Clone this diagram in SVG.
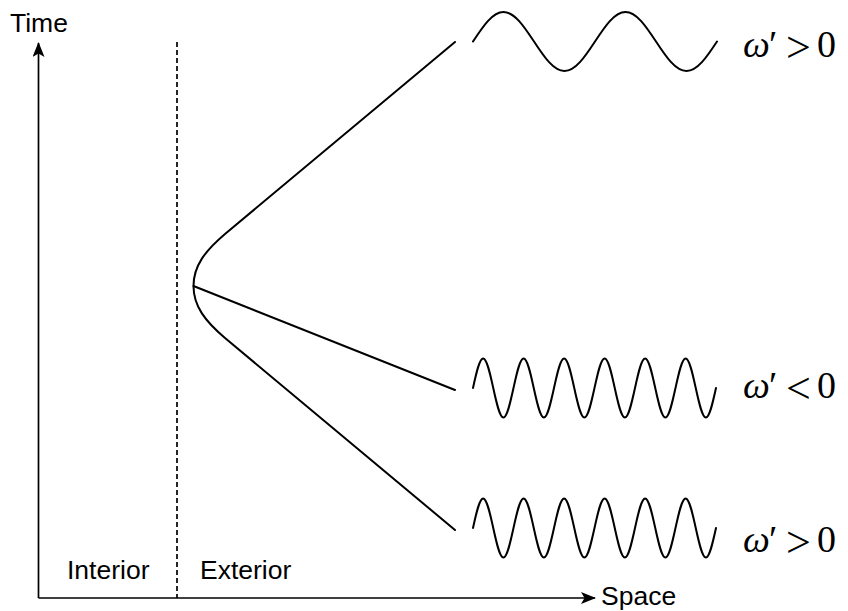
<svg xmlns="http://www.w3.org/2000/svg" width="848" height="611" viewBox="0 0 848 611">
  <defs>
    <style>
      .ln { fill: none; stroke: #000; stroke-width: 2; stroke-linecap: round; stroke-linejoin: round; }
      .ax { fill: none; stroke: #000; stroke-width: 1.7; }
      .dash { fill: none; stroke: #000; stroke-width: 1.7; stroke-dasharray: 5 3; }
      .lbl { font-family: "Liberation Sans", Arial, sans-serif; font-size: 26.5px; fill: #000; }
      .math { font-family: "Liberation Serif", "Times New Roman", serif; font-size: 38px; fill: #000; }
      .it { font-style: italic; }
      .rel { font-size: 44px; }
    </style>
    <marker id="arrow" markerUnits="userSpaceOnUse" markerWidth="16" markerHeight="14" refX="14" refY="6" orient="auto">
      <path d="M0,0 L15,6 L0,12 L3.5,6 z" fill="#000"/>
    </marker>
  </defs>

  <g id="axes">
    <line class="ax" x1="38.5" y1="598" x2="38.5" y2="43" marker-end="url(#arrow)"/>
    <line class="ax" x1="38.5" y1="598" x2="595" y2="598" marker-end="url(#arrow)"/>
    <text class="lbl" x="10" y="32">Time</text>
    <text class="lbl" x="601" y="605">Space</text>
  </g>

  <g id="boundary">
    <line class="dash" x1="177" y1="42" x2="177" y2="598"/>
    <text class="lbl" x="67" y="579">Interior</text>
    <text class="lbl" x="200" y="579">Exterior</text>
  </g>

  <g id="connectors">
    <path class="ln" d="M455,42 L225,234 C205,251 193.5,266 193.5,286 C193.5,306 205,321 225,338 L455,530"/>
    <path class="ln" d="M193.5,286 L455,390"/>
  </g>

  <g id="wave-top">
    <path class="ln" d="M473,41.5
      c9.95,-15.11 19.46,-29.5 30.5,-29.5 c11.04,0 20.55,14.39 30.5,29.5 c9.95,15.11 19.46,29.5 30.5,29.5 c11.04,0 20.55,-14.39 30.5,-29.5
      c9.95,-15.11 19.46,-29.5 30.5,-29.5 c11.04,0 20.55,14.39 30.5,29.5 c9.95,15.11 19.46,29.5 30.5,29.5 c11.04,0 20.55,-14.39 30.5,-29.5"/>
    <text class="math" x="743" y="57"><tspan class="it">ω</tspan><tspan x="769" y="57">′</tspan><tspan class="rel" x="786" y="62">&gt;</tspan><tspan x="817" y="57">0</tspan></text>
  </g>

  <g id="wave-middle">
    <path class="ln" d="M473,388
      c3.3,-15.11 6.46,-29.5 10.125,-29.5 c3.66,0 6.82,14.39 10.125,29.5 c3.3,15.11 6.46,29.5 10.125,29.5 c3.66,0 6.82,-14.39 10.125,-29.5
      c3.3,-15.11 6.46,-29.5 10.125,-29.5 c3.66,0 6.82,14.39 10.125,29.5 c3.3,15.11 6.46,29.5 10.125,29.5 c3.66,0 6.82,-14.39 10.125,-29.5
      c3.3,-15.11 6.46,-29.5 10.125,-29.5 c3.66,0 6.82,14.39 10.125,29.5 c3.3,15.11 6.46,29.5 10.125,29.5 c3.66,0 6.82,-14.39 10.125,-29.5
      c3.3,-15.11 6.46,-29.5 10.125,-29.5 c3.66,0 6.82,14.39 10.125,29.5 c3.3,15.11 6.46,29.5 10.125,29.5 c3.66,0 6.82,-14.39 10.125,-29.5
      c3.3,-15.11 6.46,-29.5 10.125,-29.5 c3.66,0 6.82,14.39 10.125,29.5 c3.3,15.11 6.46,29.5 10.125,29.5 c3.66,0 6.82,-14.39 10.125,-29.5
      c3.3,-15.11 6.46,-29.5 10.125,-29.5 c3.66,0 6.82,14.39 10.125,29.5 c3.3,15.11 6.46,29.5 10.125,29.5 c3.66,0 6.82,-14.39 10.125,-29.5"/>
    <text class="math" x="743" y="398"><tspan class="it">ω</tspan><tspan x="769" y="398">′</tspan><tspan class="rel" x="786" y="403">&lt;</tspan><tspan x="817" y="398">0</tspan></text>
  </g>

  <g id="wave-bottom">
    <path class="ln" d="M473,528
      c3.3,-15.11 6.46,-29.5 10.125,-29.5 c3.66,0 6.82,14.39 10.125,29.5 c3.3,15.11 6.46,29.5 10.125,29.5 c3.66,0 6.82,-14.39 10.125,-29.5
      c3.3,-15.11 6.46,-29.5 10.125,-29.5 c3.66,0 6.82,14.39 10.125,29.5 c3.3,15.11 6.46,29.5 10.125,29.5 c3.66,0 6.82,-14.39 10.125,-29.5
      c3.3,-15.11 6.46,-29.5 10.125,-29.5 c3.66,0 6.82,14.39 10.125,29.5 c3.3,15.11 6.46,29.5 10.125,29.5 c3.66,0 6.82,-14.39 10.125,-29.5
      c3.3,-15.11 6.46,-29.5 10.125,-29.5 c3.66,0 6.82,14.39 10.125,29.5 c3.3,15.11 6.46,29.5 10.125,29.5 c3.66,0 6.82,-14.39 10.125,-29.5
      c3.3,-15.11 6.46,-29.5 10.125,-29.5 c3.66,0 6.82,14.39 10.125,29.5 c3.3,15.11 6.46,29.5 10.125,29.5 c3.66,0 6.82,-14.39 10.125,-29.5
      c3.3,-15.11 6.46,-29.5 10.125,-29.5 c3.66,0 6.82,14.39 10.125,29.5 c3.3,15.11 6.46,29.5 10.125,29.5 c3.66,0 6.82,-14.39 10.125,-29.5"/>
    <text class="math" x="743" y="552"><tspan class="it">ω</tspan><tspan x="769" y="552">′</tspan><tspan class="rel" x="786" y="557">&gt;</tspan><tspan x="817" y="552">0</tspan></text>
  </g>
</svg>
